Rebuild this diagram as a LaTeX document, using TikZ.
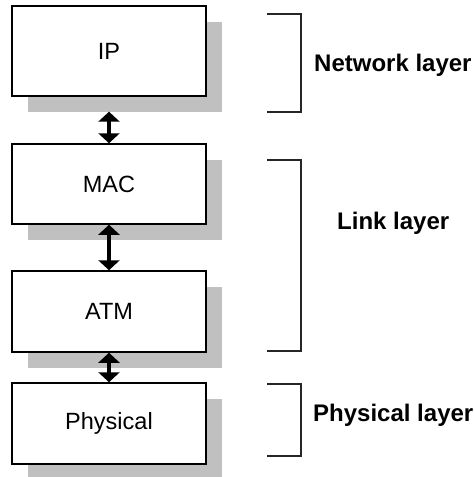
\documentclass[tikz,border=0pt]{standalone}
\usepackage{fontspec}
\setmainfont{Liberation Sans}
\usetikzlibrary{arrows.meta}
\definecolor{shadowgray}{RGB}{192,192,192}
\tikzset{
  layerbox/.style={draw=black, line width=1.5pt, fill=white, minimum width=194pt, inner sep=0pt,
    font=\fontsize{23.5}{28}\selectfont},
  shadowbox/.style={fill=shadowgray, draw=none, minimum width=194pt, inner sep=0pt},
  updown/.style={line width=4pt, {Triangle[width=21pt,length=10pt]}-{Triangle[width=21pt,length=10pt]}},
  bracket/.style={draw=black!85, line width=1.5pt},
  layerlabel/.style={anchor=west, inner sep=0pt, font=\bfseries\fontsize{24}{28}\selectfont}
}
\begin{document}
\begin{tikzpicture}[x=1pt,y=-1pt]
\useasboundingbox (0,0) rectangle (474,477);
% shadows
\node[shadowbox, minimum height=90pt] (ipsh)  at (125,66.5) {};
\node[shadowbox, minimum height=80pt] (macsh) at (125,200) {};
\node[shadowbox, minimum height=81pt] (atmsh) at (125,327) {};
\node[shadowbox, minimum height=81pt] (physh) at (125,439) {};
% boxes
\node[layerbox, minimum height=90pt] (ip)  at (109,51) {IP};
\node[layerbox, minimum height=80pt] (mac) at (109,184) {MAC};
\node[layerbox, minimum height=81pt] (atm) at (109,311.5) {ATM};
\node[layerbox, minimum height=81pt] (phy) at (109,423.5) {Physical};
% arrows
\draw[updown] (ip.south |- ipsh.south) -- (mac.north);
\draw[updown] (mac.south) -- (atm.north);
\draw[updown] (atm.south) -- (phy.north);
% brackets
\coordinate (n1) at (267,14);  \coordinate (n2) at (301,14);
\coordinate (n3) at (301,112); \coordinate (n4) at (267,112);
\draw[bracket] (n1) -- (n2) -- (n3) -- (n4);
\coordinate (l1) at (267,160); \coordinate (l2) at (301,160);
\coordinate (l3) at (301,351); \coordinate (l4) at (267,351);
\draw[bracket] (l1) -- (l2) -- (l3) -- (l4);
\coordinate (p1) at (267,384); \coordinate (p2) at (301,384);
\coordinate (p3) at (301,456); \coordinate (p4) at (267,456);
\draw[bracket] (p1) -- (p2) -- (p3) -- (p4);
% labels
\node[layerlabel] (netlab) at (314,65) {Network layer};
\node[layerlabel] (linklab) at (337,223) {Link layer};
\node[layerlabel] (phylab) at (313,415) {Physical layer};
\end{tikzpicture}
\end{document}
